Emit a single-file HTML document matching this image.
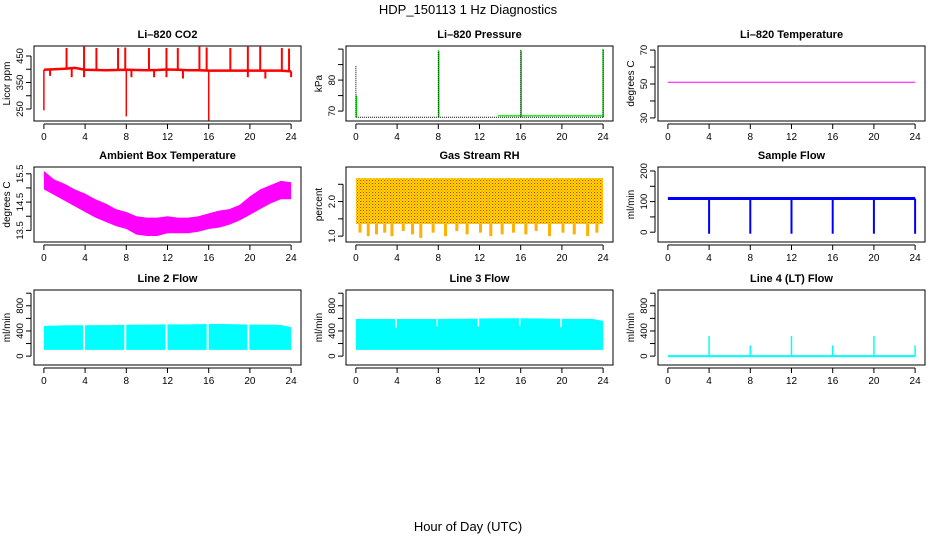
<!DOCTYPE html>
<html><head><meta charset="utf-8"><style>
body{margin:0;background:#fff;}
svg text{font-family:"Liberation Sans",sans-serif;}
</style></head><body>
<svg id="c" width="936" height="540" viewBox="0 0 936 540" xmlns="http://www.w3.org/2000/svg">
<defs>
<pattern id="rhpat" width="3" height="3" patternUnits="userSpaceOnUse">
<rect width="3" height="3" fill="#ffe000"/><rect x="0" y="0" width="1" height="1" fill="#ff2000"/><rect x="1.5" y="1.5" width="1" height="1" fill="#ff4000"/>
</pattern>
</defs>
<text x="468" y="14" text-anchor="middle" font-size="13">HDP_150113  1 Hz Diagnostics</text>
<text x="468" y="531" text-anchor="middle" font-size="13">Hour of Day (UTC)</text>
</svg>
<script>
// ---- data ----
const xTicks=[0,4,8,12,16,20,24];
const co2Base=[398,400,402,405,398,397,396,397,398,397,396,397,399,398,396,396,395,395,395,395,395,395,395,395,392];
const co2UpHours=[2.2,3.9,5.1,7.2,7.9,10.2,11.9,13.0,15.1,15.8,18.1,19.8,21.0,23.1,23.8];
const co2UpVals=[480,485,480,480,482,480,480,480,485,482,480,485,485,480,478];
const co2DownHours=[0.0,0.6,2.7,3.9,8.0,8.5,10.7,11.9,13.5,16.0,19.8,21.5,24.0];
const co2DownVals=[245,375,370,370,222,370,370,370,365,207,370,365,370];
const presBlackHours=[0,8,16,24];
const presBlackVals=[84.8,89.5,90,90];
const presGreenHours=[0.05,8.05,16.05,24];
const presGreenVals=[75,89.5,89.5,90];
const presBase=68.0, presLate=68.5, presLateStart=13.8;
const liTemp=51;
const ambHours=[0,1,2,3,4,5,6,7,8,9,10,11,12,13,14,15,16,17,18,19,20,21,22,23,24];
const ambUpper=[15.6,15.3,15.15,14.95,14.8,14.6,14.45,14.25,14.15,14.0,13.95,13.95,14.0,13.95,13.95,14.0,14.1,14.2,14.25,14.4,14.7,14.95,15.1,15.25,15.2];
const ambLower=[14.95,14.75,14.55,14.35,14.15,13.95,13.8,13.65,13.55,13.35,13.3,13.3,13.4,13.4,13.4,13.45,13.55,13.6,13.7,13.85,14.05,14.25,14.45,14.6,14.6];
const rhUpper=2.68, rhLower=1.35;
const rhSpikeHours=[0.4,1.2,2.0,2.8,3.5,4.6,5.5,6.3,7.5,8.7,9.8,10.8,12.1,13.1,14.2,15.3,16.5,17.5,18.8,20.1,21.2,22.5,23.4];
const rhSpikeVals=[1.1,1.0,1.05,1.1,1.0,1.15,1.05,0.95,1.1,1.0,1.15,1.05,1.1,1.0,1.05,1.1,1.05,1.15,1.0,1.1,1.05,1.0,1.1];
const sfBase=110;
const sfDipHours=[4,8,12,16,20,24];
const l2Upper=[480,485,488,490,490,492,492,495,498,500,500,502,505,505,505,508,510,510,508,505,502,500,498,495,460];
const l2Lower=100;
const l2Gaps=[3.9,7.9,11.9,15.9,19.85];
const l3Upper=[590,590,590,590,590,590,590,590,590,592,595,595,598,600,600,602,602,600,598,595,595,592,592,590,560];
const l3Lower=100;
const l3Gaps=[3.9,7.9,11.9,15.9,19.9];
const l3GapVals=[450,470,470,480,460];
const l4SpikeHours=[4,8,12,16,20,24];
const l4SpikeVals=[320,170,320,170,320,170];

// ---- layout ----
const svg=document.getElementById('c');
const NS='http://www.w3.org/2000/svg';
const colX=[34,346,658], rowY=[46,167,290], W=267, H=75;
function el(tag,attrs,parent){const e=document.createElementNS(NS,tag);for(const k in attrs)e.setAttribute(k,attrs[k]);(parent||svg).appendChild(e);return e;}
function panel(col,row,title,ylab,ymin,ymax,ticks,labels,name){
  const x0=colX[col],y0=rowY[row];
  const g=el('g',{});
  
  
  const sx=h=>x0+(h+0.96)/25.92*W;
  const sy=v=>y0+H-(v-ymin)/(ymax-ymin)*H;
  const t=el('text',{x:x0+W/2,y:y0-8,'text-anchor':'middle','font-size':11,'font-weight':'bold'},g);t.textContent=title;
  
  
  const yl=el('text',{x:0,y:0,'text-anchor':'middle','font-size':10,transform:`translate(${x0-24},${y0+H/2}) rotate(-90)`},g);yl.textContent=ylab;
  
  
  const xa=el('g',{},g);
  
  
  el('line',{x1:sx(0),x2:sx(24),y1:y0+H+3,y2:y0+H+3,stroke:'#000'},xa);
  xTicks.forEach(h=>{el('line',{x1:sx(h),x2:sx(h),y1:y0+H+3,y2:y0+H+8,stroke:'#000'},xa);
    const tt=el('text',{x:sx(h),y:y0+H+19,'text-anchor':'middle','font-size':10},xa);tt.textContent=h;});
  const ya=el('g',{},g);
  
  
  el('line',{x1:x0-3,x2:x0-3,y1:sy(ticks[0]),y2:sy(ticks[ticks.length-1]),stroke:'#000'},ya);
  ticks.forEach(v=>{el('line',{x1:x0-8,x2:x0-3,y1:sy(v),y2:sy(v),stroke:'#000'},ya);});
  labels.forEach(v=>{const tt=el('text',{x:0,y:0,'text-anchor':'middle','font-size':9.5,transform:`translate(${x0-11},${sy(v)}) rotate(-90)`},ya);tt.textContent=v;});
  const clip='cl'+name;
  const cp=el('clipPath',{id:clip},g);el('rect',{x:x0,y:y0,width:W,height:H},cp);
  const d=el('g',{'clip-path':`url(#${clip})`},g);
  
  
  el('rect',{x:x0,y:y0,width:W,height:H,fill:'none',stroke:'#000'},g);
  return {sx,sy,d};
}
function vline(p,h,v1,v2,color,w,dash){const a={x1:p.sx(h),x2:p.sx(h),y1:p.sy(v1),y2:p.sy(v2),stroke:color,'stroke-width':w||1};if(dash)a['stroke-dasharray']=dash;return el('line',a,p.d);}
function band(p,hours,up,lo,fill){let pts=hours.map((h,i)=>p.sx(h)+','+p.sy(up[i]));for(let i=hours.length-1;i>=0;i--)pts.push(p.sx(hours[i])+','+p.sy(lo[i]));return el('polygon',{points:pts.join(' '),fill:fill},p.d);}

let p=panel(0,0,'Li\u2013820 CO2','Licor ppm',204.7,487.7,[250,300,350,400,450],[250,350,450],'co2');
el('polyline',{points:co2Base.map((v,i)=>p.sx(i)+','+p.sy(v)).join(' '),fill:'none',stroke:'#ff0000','stroke-width':2.5},p.d);
co2UpHours.forEach((h,i)=>vline(p,h,co2Base[Math.round(h)]||395,co2UpVals[i],'#ff0000',2));
co2DownHours.forEach((h,i)=>vline(p,h,co2Base[Math.round(h)]||395,co2DownVals[i],'#ff0000',co2DownVals[i]<300?1.5:2));

p=panel(1,0,'Li\u2013820 Pressure','kPa',66.8,91,[70,75,80,85,90],[70,80],'pressure');
el('line',{x1:p.sx(0),x2:p.sx(24),y1:p.sy(presBase),y2:p.sy(presBase),stroke:'#000','stroke-dasharray':'1,1'},p.d);
el('line',{x1:p.sx(presLateStart),x2:p.sx(24),y1:p.sy(presLate),y2:p.sy(presLate),stroke:'#00ee00','stroke-width':1.2},p.d);
presGreenHours.forEach((h,i)=>vline(p,h,presBase,presGreenVals[i],'#00ee00',1.5));
presBlackHours.forEach((h,i)=>vline(p,h,presBase,presBlackVals[i],'#000',1,'1,1'));

p=panel(2,0,'Li\u2013820 Temperature','degrees C',28.2,72.4,[30,40,50,60,70],[30,50,70],'li-temp');
el('line',{x1:p.sx(0),x2:p.sx(24),y1:p.sy(liTemp),y2:p.sy(liTemp),stroke:'#ff00ff'},p.d);

p=panel(0,1,'Ambient Box Temperature','degrees C',13.09,15.74,[13.5,14,14.5,15,15.5],[13.5,14.5,15.5],'ambient-temp');
band(p,ambHours,ambUpper,ambLower,'#ff00ff');

p=panel(1,1,'Gas Stream RH','percent',0.83,3.0,[1,1.5,2,2.5],['1.0','2.0'],'rh');
el('rect',{x:p.sx(0),y:p.sy(rhUpper),width:p.sx(24)-p.sx(0),height:p.sy(rhLower)-p.sy(rhUpper),fill:'url(#rhpat)'},p.d);
rhSpikeHours.forEach((h,i)=>vline(p,h,rhLower,rhSpikeVals[i],'#ffb000',3));

p=panel(2,1,'Sample Flow','ml/min',-32,213,[0,50,100,150,200],[0,100,200],'sample-flow');
el('line',{x1:p.sx(0),x2:p.sx(24),y1:p.sy(sfBase),y2:p.sy(sfBase),stroke:'#0000ff','stroke-width':3},p.d);
sfDipHours.forEach(h=>vline(p,h,sfBase,-5,'#0000ff',2));

p=panel(0,2,'Line 2 Flow','ml/min',-141,1051,[0,200,400,600,800,1000],[0,400,800],'line2-flow');
band(p,ambHours,l2Upper,ambHours.map(()=>l2Lower),'#00ffff');
l2Gaps.forEach(h=>vline(p,h,l2Lower-20,600,'#ffffff',2));

p=panel(1,2,'Line 3 Flow','ml/min',-141,1051,[0,200,400,600,800,1000],[0,400,800],'line3-flow');
band(p,ambHours,l3Upper,ambHours.map(()=>l3Lower),'#00ffff');
l3Gaps.forEach((h,i)=>{vline(p,h,l3GapVals[i],700,'#ffffff',1.5);vline(p,h+0.1,l3Lower,l3GapVals[i],'#00ffff',1.5);});

p=panel(2,2,'Line 4 (LT) Flow','ml/min',-141,1051,[0,200,400,600,800,1000],[0,400,800],'line4-flow');
el('line',{x1:p.sx(0),x2:p.sx(24),y1:p.sy(0),y2:p.sy(0),stroke:'#00ffff','stroke-width':2},p.d);
l4SpikeHours.forEach((h,i)=>vline(p,h,0,l4SpikeVals[i],'#00ffff',1.5));
</script>
</body></html>
